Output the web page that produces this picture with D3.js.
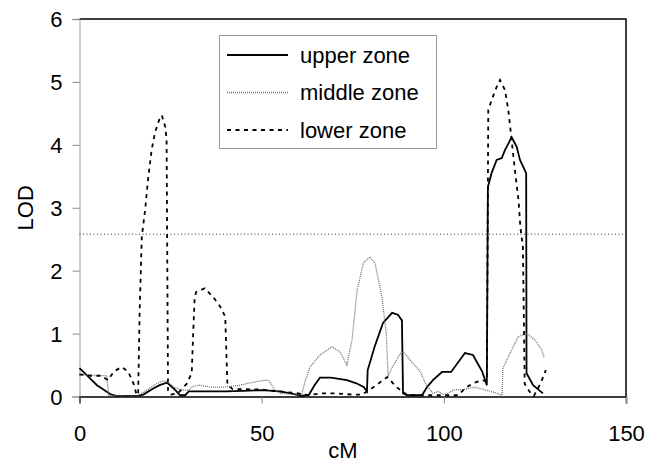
<!DOCTYPE html>
<html lang="en">
<head>
<meta charset="utf-8">
<script src="https://d3js.org/d3.v7.min.js"></script>
<style type="text/css">
body {
	margin: 0;
	background: #fff;
}
text {
	font-family: Arial, "Liberation Sans", sans-serif;
	font-size: 22px;
	fill: #000;
}
</style>
</head>
<body>
<script type="text/javascript">

// LOD profiles, [cM, LOD]
var upperZone = [[0,0.45],[2,0.34],[4.8,0.18],[8.4,0.04],[10,0.01],[16,0.01],[17.5,0.03],[20,0.12],[22,0.18],[24,0.22],[26,0.12],[27.6,0.02],[29,0.02],[30,0.08],[35,0.08],[40,0.08],[45,0.09],[50,0.1],[55,0.08],[58,0.05],[61,0.01],[63,0.03],[64.5,0.18],[66,0.3],[69,0.3],[73.4,0.26],[76,0.21],[78,0.15],[78.9,0.08],[79.1,0.42],[81,0.79],[83.3,1.17],[85.8,1.33],[87.4,1.3],[88.5,1.21],[88.8,0.05],[90,0.02],[94,0.02],[95.4,0.15],[97,0.26],[99.5,0.39],[102,0.39],[105.8,0.69],[108,0.66],[110.5,0.4],[111.8,0.18],[112.1,3.33],[113.1,3.55],[114.5,3.76],[115.9,3.79],[116.8,3.92],[118.6,4.12],[120,3.97],[120.9,3.76],[122.6,3.55],[122.7,0.37],[124.5,0.18],[127.2,0.05]];

var middleZone = [[0,0.35],[3,0.34],[7.5,0.33],[8,0.02],[12,0.01],[16,0.01],[17,0.05],[19,0.12],[21,0.2],[23,0.25],[24.5,0.22],[26,0.15],[28,0.1],[30,0.1],[31,0.16],[33,0.18],[36,0.15],[40,0.15],[44,0.18],[48,0.23],[51,0.26],[52,0.25],[53.6,0.1],[55,0.05],[58,0.04],[61,0.03],[62,0.26],[63.3,0.47],[66,0.66],[69.3,0.79],[71.5,0.71],[73.4,0.5],[74.8,0.9],[76.2,1.69],[77.9,2.12],[79.7,2.22],[81.1,2.12],[83,1.58],[84.2,1.0],[84.7,0.33],[86,0.48],[88,0.68],[89,0.7],[91.5,0.53],[93.5,0.4],[95,0.2],[97,0.05],[98.5,0.08],[100,0.03],[101.7,0.07],[103,0.11],[105.3,0.11],[108.5,0.15],[111.8,0.1],[114.6,0.05],[116,0.02],[116.2,0.45],[118.2,0.69],[120.4,0.95],[122.8,1.0],[125,0.9],[126.9,0.74],[127.5,0.62]];

var lowerZone = [[0,0.35],[3,0.33],[6,0.33],[7.8,0.26],[9.5,0.4],[11.6,0.47],[13.4,0.39],[14.8,0.21],[15.7,0.02],[16.1,0.05],[16.5,1.33],[17.1,2.54],[18,2.96],[18.8,3.44],[19.8,3.92],[20.7,4.19],[21.9,4.4],[22.6,4.47],[23.5,4.29],[23.9,4.1],[24.3,0.1],[25,0.03],[27,0.05],[29.4,0.2],[30.8,0.37],[31.2,1.0],[31.6,1.56],[32,1.66],[34.4,1.72],[36.7,1.58],[38.6,1.43],[40,1.27],[40.6,0.18],[42,0.12],[50,0.11],[55,0.08],[60,0.05],[63,0.02],[66,0.05],[70,0.05],[75,0.03],[77.5,0.03],[80,0.12],[84.5,0.31],[87,0.15],[90,0.02],[95,0.02],[100,0.02],[104,0.02],[105.8,0.13],[108,0.21],[110.5,0.26],[111.8,0.24],[112.1,3.44],[112.2,4.55],[113.1,4.71],[114.5,4.92],[115.4,5.03],[116.8,4.87],[117.7,4.55],[118.2,4.29],[119.5,3.6],[120.5,3.12],[121,2.7],[121.7,2.38],[122.2,0.2],[123.5,0.08],[124.7,0.01],[126.5,0.2],[128,0.42]];

var seriesNames = ["upper zone", "middle zone", "lower zone"];
var xTicks = [0, 50, 100, 150];
var yTicks = [0, 1, 2, 3, 4, 5, 6];
var threshold = 2.58;

var width = 648;
var height = 464;

var x = d3.scaleLinear().domain([0, 150]).range([79.5, 626]);
var y = d3.scaleLinear().domain([0, 6]).range([396.5, 19]);

var svg = d3.select("body")
			.append("svg")
			.attr("width", width)
			.attr("height", height);

svg.append("rect")
   .attr("width", width)
   .attr("height", height)
   .style("fill", "#fff");

// top and right frame
svg.append("path")
   .attr("d", "M" + x(0) + "," + y(6) + "H" + x(150) + "V" + y(0))
   .style("fill", "none")
   .style("stroke", "#000")
   .style("stroke-width", 1.5);

// left axis (grey, dotted look) with outward ticks
var yAxis = svg.append("g")
			   .attr("transform", "translate(" + x(0) + ",0)")
			   .call(d3.axisLeft(y).tickValues(yTicks).tickSize(7).tickPadding(10).tickFormat(d3.format("d")));
yAxis.select(".domain").style("stroke", "#777").style("stroke-width", 1.5).style("stroke-dasharray", "1,1");
yAxis.selectAll(".tick line").style("stroke", "#888");
yAxis.selectAll(".tick text").style("font-size", "22px").attr("dy", "0.36em");

// bottom axis
var xAxis = svg.append("g")
			   .attr("transform", "translate(0," + y(0) + ")")
			   .call(d3.axisBottom(x).tickValues(xTicks).tickSize(7).tickPadding(22).tickFormat(d3.format("d")));
xAxis.select(".domain").style("stroke", "#000").style("stroke-width", 1.5);
xAxis.selectAll(".tick line").style("stroke", "#888");
xAxis.selectAll(".tick text").style("font-size", "22px");

svg.append("text")
   .attr("x", 343)
   .attr("y", 458)
   .attr("text-anchor", "middle")
   .text("cM");

svg.append("text")
   .attr("transform", "translate(33," + y(3) + ") rotate(-90)")
   .attr("text-anchor", "middle")
   .text("LOD");

// significance threshold
svg.append("line")
   .attr("x1", x(0))
   .attr("x2", x(150))
   .attr("y1", y(threshold))
   .attr("y2", y(threshold))
   .style("stroke", "#333")
   .style("stroke-width", 1)
   .style("stroke-dasharray", "1,2.5");

var line = d3.line()
			 .x(function(d) { return x(d[0]); })
			 .y(function(d) { return y(d[1]); });

var styles = [
  {stroke: "#000", width: 1.8, dash: null},
  {stroke: "#6f6f6f", width: 1.3, dash: "1,1"},
  {stroke: "#000", width: 1.8, dash: "4,4.5"}
];

var allSeries = [upperZone, middleZone, lowerZone];

svg.selectAll("path.lod")
   .data(allSeries)
   .enter()
   .append("path")
   .attr("class", "lod")
   .attr("d", line)
   .style("fill", "none")
   .style("stroke", function(d, i) { return styles[i].stroke; })
   .style("stroke-width", function(d, i) { return styles[i].width; })
   .style("stroke-dasharray", function(d, i) { return styles[i].dash; });

// legend
var legend = svg.append("g");

legend.append("rect")
	  .attr("x", 219.5)
	  .attr("y", 35.5)
	  .attr("width", 217)
	  .attr("height", 113)
	  .style("fill", "#fff")
	  .style("stroke", "#999")
	  .style("stroke-width", 1);

var rows = legend.selectAll("g.row")
				 .data(seriesNames)
				 .enter()
				 .append("g")
				 .attr("class", "row")
				 .attr("transform", function(d, i) { return "translate(0," + (55 + i * 37.5) + ")"; });

rows.append("line")
	.attr("x1", 227)
	.attr("x2", 288)
	.style("stroke", function(d, i) { return styles[i].stroke; })
	.style("stroke-width", function(d, i) { return styles[i].width; })
	.style("stroke-dasharray", function(d, i) { return styles[i].dash; });

rows.append("text")
	.attr("x", 300)
	.attr("dy", "0.35em")
	.text(function(d) { return d; });

</script>
</body>
</html>
